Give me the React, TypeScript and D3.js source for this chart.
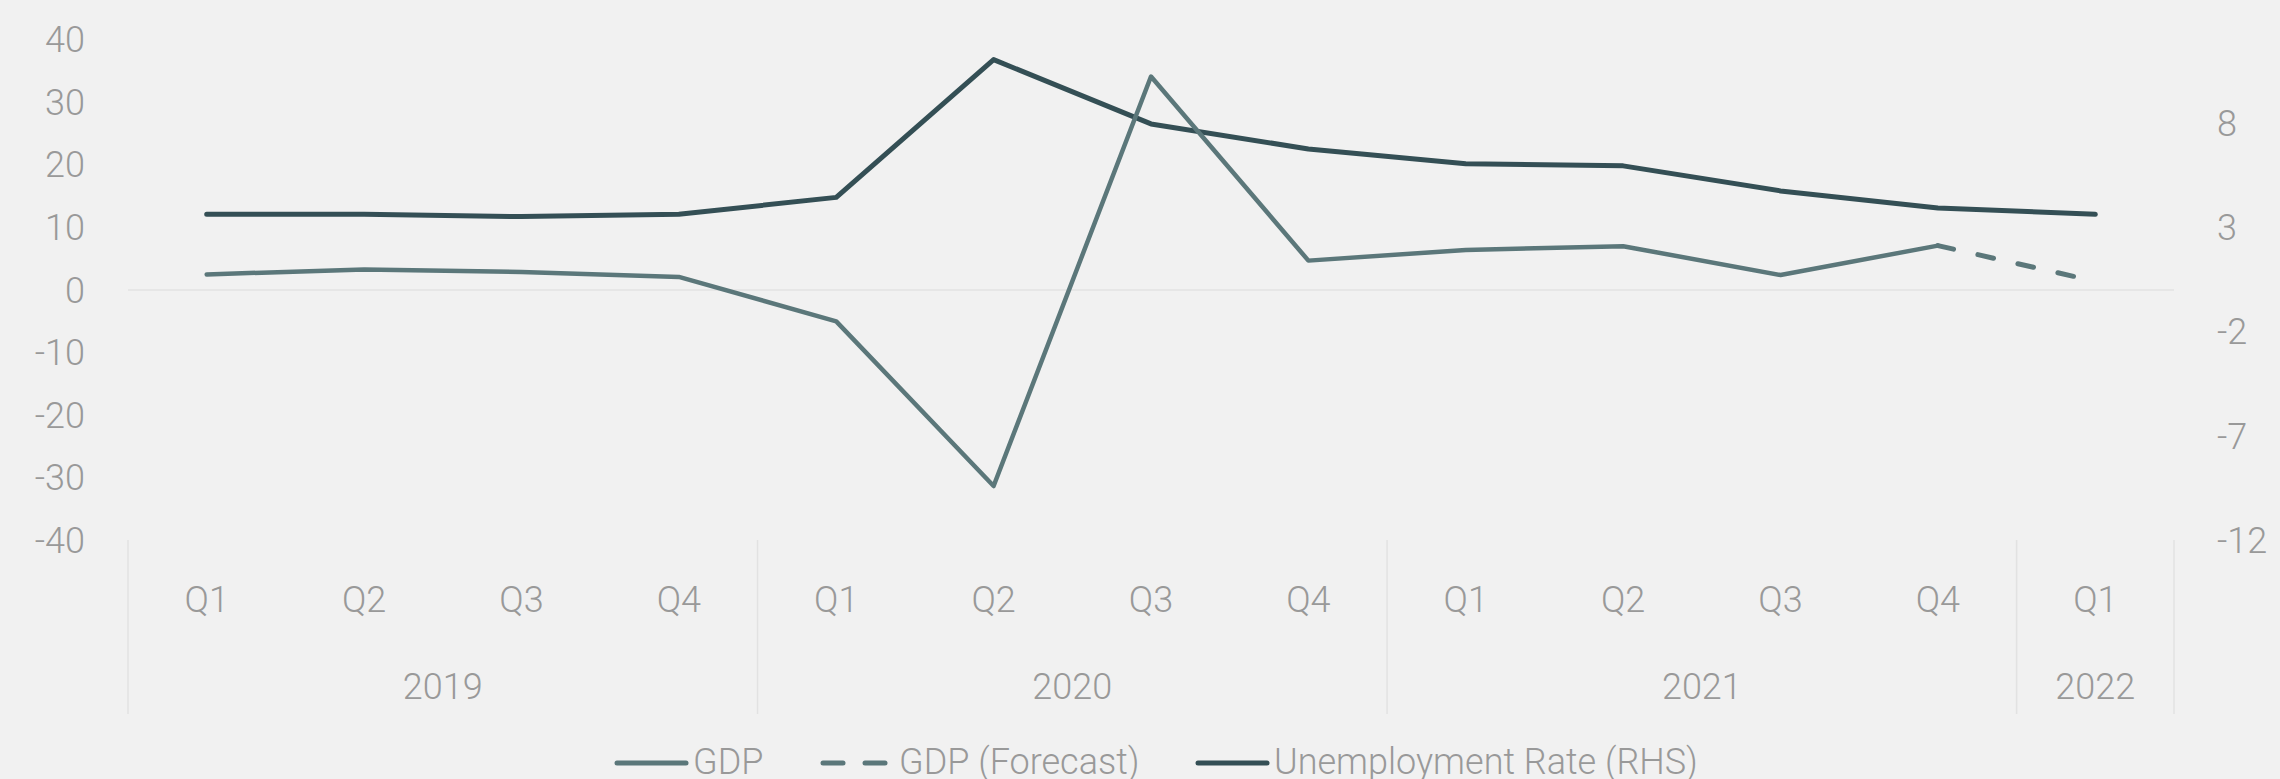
import React from "react";
import * as d3 from "d3";

const quarters = ["Q1","Q2","Q3","Q4","Q1","Q2","Q3","Q4","Q1","Q2","Q3","Q4","Q1"];
const years = ["2019","2020","2021","2022"];
const yearSpans = [4, 4, 4, 1];
const gdp: (number | null)[] = [2.5, 3.3, 2.9, 2.1, -5.0, -31.3, 34.1, 4.7, 6.4, 7.0, 2.4, 7.1, null];
const gdpForecast: (number | null)[] = [null, null, null, null, null, null, null, null, null, null, null, 7.1, 1.4];
const unemployment = [3.63, 3.63, 3.52, 3.63, 4.44, 11.04, 7.96, 6.76, 6.05, 5.95, 4.75, 3.93, 3.63];
const leftTicks = [40, 30, 20, 10, 0, -10, -20, -30, -40];
const rightTicks = [8, 3, -2, -7, -12];
const legendLabels = ["GDP", "GDP (Forecast)", "Unemployment Rate (RHS)"];

const W = 2280, H = 779;
const GDP_COLOR = "#5b777a";
const UNEMP_COLOR = "#344f55";
const TEXT = "#999999";
const FONT = "Roboto, 'Liberation Sans', sans-serif";

export default function App() {
  const idx = quarters.map((_, i) => i);
  const x = d3.scaleBand<number>().domain(idx).range([128, 2174]).paddingInner(0).paddingOuter(0);
  const cx = (i: number) => (x(i) as number) + x.bandwidth() / 2;
  const yL = d3.scaleLinear().domain([-40, 40]).range([540.5, 39.6]);
  const yR = d3.scaleLinear().domain([-12, 12]).range([540.5, 39.6]);

  const lineL = d3.line<number | null>()
    .defined((d) => d !== null)
    .x((_, i) => cx(i))
    .y((d) => yL(d as number));
  const lineR = d3.line<number>()
    .x((_, i) => cx(i))
    .y((d) => yR(d));

  const seps: number[] = [0];
  let acc = 0;
  yearSpans.forEach((s) => { acc += s; seps.push(acc); });
  const sepX = (k: number) => (k < quarters.length ? (x(k) as number) : 2174);

  const fontStyle = { fontFamily: FONT, fontWeight: 300 as const, fontSize: 36, fill: TEXT };

  return (
    <svg width={W} height={H} style={{ position: "absolute", left: 0, top: 0, background: "#f1f1f1" }}>
      <rect x={0} y={0} width={W} height={H} fill="#f1f1f1" />
      <line x1={128} x2={2174} y1={yL(0)} y2={yL(0)} stroke="#e2e2e2" strokeWidth={1.5} />
      {seps.map((k, i) => (
        <line key={"s" + i} x1={sepX(k)} x2={sepX(k)} y1={540} y2={714} stroke="#e2e2e2" strokeWidth={1.5} />
      ))}
      {leftTicks.map((t) => (
        <text key={"l" + t} x={85} y={yL(t) + 12.5} textAnchor="end" {...fontStyle}>{t}</text>
      ))}
      {rightTicks.map((t) => (
        <text key={"r" + t} x={2217} y={yR(t) + 12.5} textAnchor="start" {...fontStyle}>{t}</text>
      ))}
      {quarters.map((q, i) => (
        <text key={"q" + i} x={cx(i)} y={612} textAnchor="middle" {...fontStyle}>{q}</text>
      ))}
      {years.map((yr, i) => {
        const a = sepX(seps[i]);
        const b = sepX(seps[i + 1]);
        return <text key={"y" + yr} x={(a + b) / 2} y={699} textAnchor="middle" {...fontStyle}>{yr}</text>;
      })}
      <path d={lineR(unemployment) || ""} fill="none" stroke={UNEMP_COLOR} strokeWidth={5} strokeLinejoin="round" strokeLinecap="round" />
      <path d={lineL(gdp) || ""} fill="none" stroke={GDP_COLOR} strokeWidth={4.5} strokeLinejoin="round" strokeLinecap="round" />
      <path d={lineL(gdpForecast) || ""} fill="none" stroke={GDP_COLOR} strokeWidth={5} strokeDasharray="16 25" strokeLinecap="round" />
      <g>
        <line x1={617} x2={686} y1={763} y2={763} stroke={GDP_COLOR} strokeWidth={5} strokeLinecap="round" />
        <text x={693} y={774} {...fontStyle}>{legendLabels[0]}</text>
        <line x1={823} x2={843} y1={763} y2={763} stroke={GDP_COLOR} strokeWidth={5} strokeLinecap="round" />
        <line x1={865} x2={885} y1={763} y2={763} stroke={GDP_COLOR} strokeWidth={5} strokeLinecap="round" />
        <text x={899} y={774} {...fontStyle}>{legendLabels[1]}</text>
        <line x1={1198} x2={1267} y1={763} y2={763} stroke={UNEMP_COLOR} strokeWidth={5} strokeLinecap="round" />
        <text x={1274} y={774} {...fontStyle}>{legendLabels[2]}</text>
      </g>
    </svg>
  );
}
